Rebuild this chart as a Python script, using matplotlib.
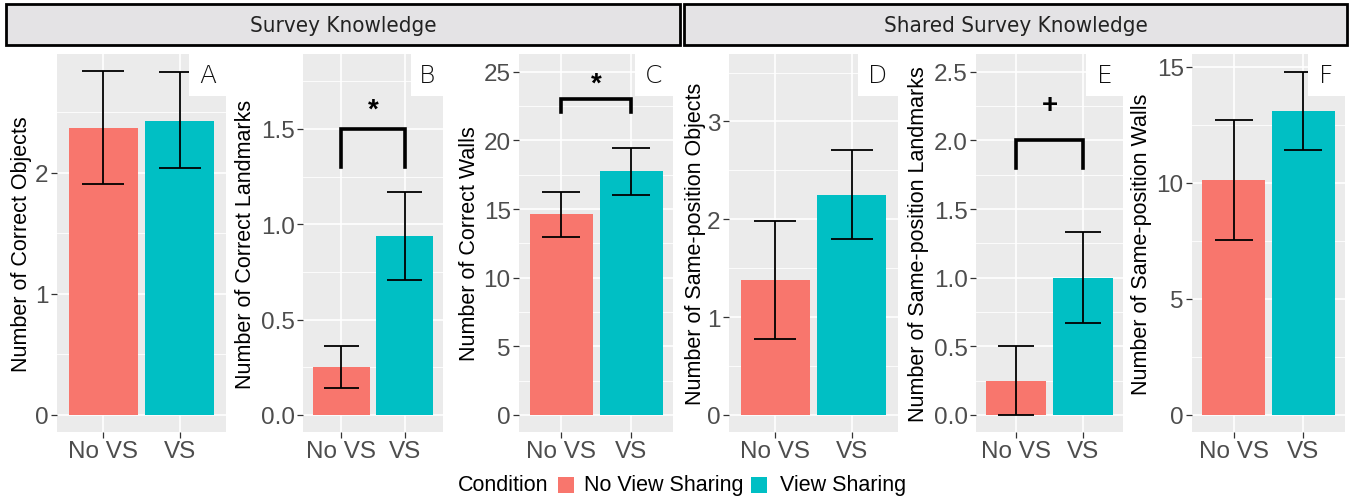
import matplotlib
matplotlib.use("Agg")
import matplotlib.pyplot as plt
from matplotlib.patches import Rectangle
import numpy as np

# ---------------- data ----------------
conditions = ["No VS", "VS"]
legend_labels = ["No View Sharing", "View Sharing"]
panel_letters = ["A", "B", "C", "D", "E", "F"]
ylabels = ["Number of Correct Objects", "Number of Correct Landmarks",
           "Number of Correct Walls", "Number of Same-position Objects",
           "Number of Same-position Landmarks", "Number of Same-position Walls"]
means = [[2.37, 2.43], [0.25, 0.94], [14.65, 17.78],
         [1.38, 2.25], [0.25, 1.00], [10.1, 13.1]]
err_low = [[1.91, 2.04], [0.14, 0.71], [12.99, 16.05],
           [0.78, 1.80], [0.00, 0.67], [7.55, 11.41]]
err_high = [[2.84, 2.83], [0.36, 1.17], [16.26, 19.47],
            [1.98, 2.71], [0.50, 1.33], [12.69, 14.78]]
# significance annotations
sig_panels = [1, 2, 4]
sig_symbols = ["*", "*", "+"]
sig_top = [1.5, 23.0, 2.0]
sig_bottom = [1.3, 22.1, 1.8]
sig_text_y = [1.6, 24.15, 2.26]
yticks = [[0, 1, 2], [0.0, 0.5, 1.0, 1.5], [0, 5, 10, 15, 20, 25],
          [0, 1, 2, 3], [0.0, 0.5, 1.0, 1.5, 2.0, 2.5], [0, 5, 10, 15]]
ytick_labels = [["0", "1", "2"], ["0.0", "0.5", "1.0", "1.5"],
                ["0", "5", "10", "15", "20", "25"], ["0", "1", "2", "3"],
                ["0.0", "0.5", "1.0", "1.5", "2.0", "2.5"], ["0", "5", "10", "15"]]
ylims = [(-0.142, 2.98), (-0.09, 1.893), (-1.25, 26.3),
         (-0.175, 3.69), (-0.125, 2.63), (-0.74, 15.55)]
strip_titles = ["Survey Knowledge", "Shared Survey Knowledge"]

# ---------------- style ----------------
colors = ["#F8766D", "#00BFC4"]
W, H = 1349, 502
fig = plt.figure(figsize=(W / 100, H / 100), dpi=100)
plt.rcParams['font.family'] = ['Liberation Sans', 'DejaVu Sans']

panel_x = [(57, 226), (303, 443), (519, 673), (729, 898), (976, 1123), (1192, 1345)]
box_left = [189, 411, 635, 858, 1086, 1308]
ylabel_x = [32, 256, 480, 706, 929, 1152]
ptop, pbot = 55, 433
box_bottom = 97


def fx(px):
    return px / W


def fy(py):
    return 1 - py / H


xpos = np.arange(1, len(conditions) + 1)
for i in range(6):
    l, r = panel_x[i]
    ax = fig.add_axes([fx(l), fy(pbot), fx(r - l), (pbot - ptop) / H])
    ax.set_facecolor("#EBEBEB")
    for s in ax.spines.values():
        s.set_visible(False)
    ax.set_xlim(0.4, 2.6)
    ax.set_ylim(*ylims[i])
    ax.set_yticks(yticks[i])
    ax.set_yticklabels(ytick_labels[i])
    ticks = np.array(yticks[i], dtype=float)
    step = ticks[1] - ticks[0]
    minor = np.arange(ticks[0] - step / 2, ylims[i][1], step)
    minor = minor[(minor > ylims[i][0]) & (minor < ylims[i][1])]
    ax.set_yticks(minor, minor=True)
    ax.set_xticks(xpos)
    ax.set_xticklabels(conditions)
    ax.grid(True, which="major", color="white", lw=1.2, zorder=0)
    ax.grid(True, which="minor", axis="y", color="white", lw=0.6, zorder=0)
    ax.set_axisbelow(True)
    ax.tick_params(axis="both", which="major", length=4, width=0.9,
                   color="#333333", labelcolor="#4D4D4D", labelsize=17.5, pad=2)
    ax.tick_params(axis="y", which="minor", length=0)
    ax.bar(xpos, means[i], width=0.9, color=colors, zorder=2)
    ax.vlines(xpos, err_low[i], err_high[i], color="black", lw=1.3, zorder=3)
    ax.hlines(err_low[i], xpos - 0.275, xpos + 0.275, color="black", lw=1.3, zorder=3)
    ax.hlines(err_high[i], xpos - 0.275, xpos + 0.275, color="black", lw=1.3, zorder=3)
    ax.set_ylabel(ylabels[i], fontsize=15.5, color="black")
    ax.yaxis.set_label_coords((ylabel_x[i] - l) / (r - l), 0.5)
    # letter box
    bw = (r - box_left[i]) / (r - l)
    bh = (box_bottom - ptop) / (pbot - ptop)
    ax.add_patch(Rectangle((1 - bw, 1 - bh), bw + 0.01, bh + 0.005, transform=ax.transAxes,
                           facecolor="white", edgecolor="none", zorder=10, clip_on=False))
    ax.text(1 - bw / 2, 1 - bh / 2, panel_letters[i], transform=ax.transAxes,
            ha="center", va="center", fontsize=18, color="#111111",
            family="DejaVu Sans", fontweight="light", zorder=11)
    if i in sig_panels:
        k = sig_panels.index(i)
        ax.plot([1, 1, 2, 2], [sig_bottom[k], sig_top[k], sig_top[k], sig_bottom[k]],
                color="black", lw=2.6, solid_joinstyle="miter", zorder=4)
        ax.text(1.5, sig_text_y[k], sig_symbols[k], ha="center", va="center",
                fontsize=20, fontweight="bold", color="black", zorder=4)

# strip headers
strip_x = [(6, 680), (684, 1347)]
for (l, r), t in zip(strip_x, strip_titles):
    fig.add_artist(Rectangle((fx(l), fy(46)), fx(r - l), (46 - 5) / H, transform=fig.transFigure,
                             facecolor="#E4E3E5", edgecolor="black", lw=2))
    fig.text(fx((l + r) / 2), fy(25.5), t, ha="center", va="center", fontsize=16,
             family="DejaVu Sans", fontstretch="condensed", color="#222222")

# legend
ly = 486
fig.text(fx(458), fy(ly), "Condition", ha="left", va="center", fontsize=15.5, color="black")
key_x = [558, 751]
text_x = [584, 780]
for kx, tx, c, lab in zip(key_x, text_x, colors, legend_labels):
    fig.add_artist(Rectangle((fx(kx), fy(ly + 8)), fx(16), 16 / H, transform=fig.transFigure,
                             facecolor=c, edgecolor="none"))
    fig.text(fx(tx), fy(ly), lab, ha="left", va="center", fontsize=15.5, color="black")

fig.savefig("out.png", dpi=100)
